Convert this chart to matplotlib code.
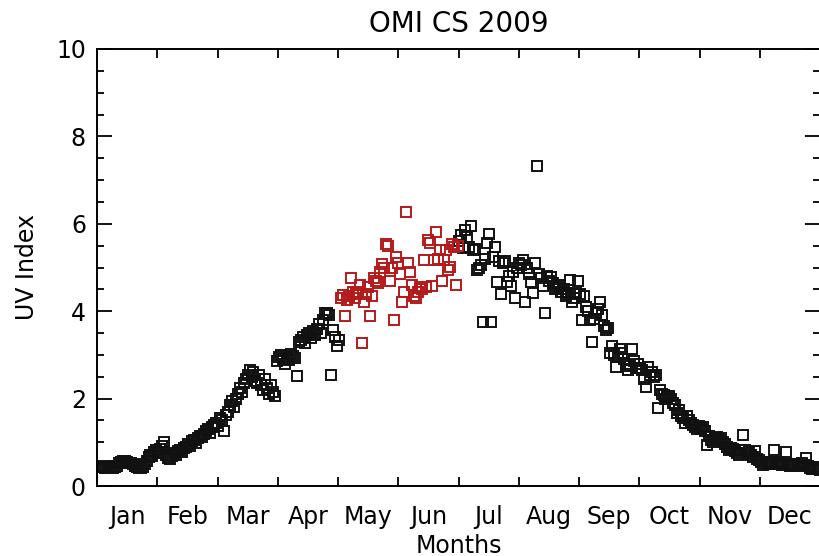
import numpy as np
import matplotlib
matplotlib.use("Agg")
import matplotlib.pyplot as plt
from matplotlib.ticker import FixedLocator, MultipleLocator

# Daily UV index, one list per month
jan = [0.45, 0.43, 0.44, 0.42, 0.41, 0.43, 0.45, 0.42, 0.44, 0.46,
       0.52, 0.56, 0.58, 0.57, 0.55, 0.53, 0.52, 0.50, 0.46, 0.43,
       0.41, 0.42, 0.44, 0.50, 0.58, 0.66, 0.72, 0.68, 0.78, 0.82, 0.75]
feb = [0.85, 0.92, 1.00, 0.72, 0.65, 0.62, 0.68, 0.75, 0.70, 0.80,
       0.83, 0.78, 0.88, 0.90, 0.95, 0.92, 1.02, 1.05, 0.98, 1.10,
       1.15, 1.12, 1.20, 1.25, 1.30, 1.22, 1.35, 1.40]
mar = [1.45, 1.38, 1.55, 1.50, 1.25, 1.62, 1.70, 1.85, 1.95, 1.80,
       2.00, 2.10, 2.25, 2.15, 2.35, 2.45, 2.55, 2.65, 2.50, 2.60,
       2.40, 2.35, 2.55, 2.30, 2.20, 2.45, 2.25, 2.10, 2.30, 2.15, 2.05]
apr = [2.85, 2.95, 3.00, 2.90, 2.80, 2.95, 2.88, 3.02, 2.98, 2.92,
       2.52, 3.30, 3.35, 3.40, 3.28, 3.45, 3.50, 3.38, 3.55, 3.45,
       3.60, 3.70, 3.50, 3.80, 3.95, 3.97, 3.92, 2.55, 3.58, 3.40]
may = [3.20, 3.35, 4.30, 4.38, 3.88, 4.25, 4.35, 4.77, 4.45, 4.30,
       4.40, 4.45, 4.60, 3.28, 4.20, 4.40, 4.55, 3.88, 4.35, 4.77,
       4.70, 4.65, 4.90, 5.07, 5.00, 5.53, 5.50, 4.68, 5.00, 3.80, 5.25]
jun = [5.10, 4.84, 4.20, 4.45, 6.28, 5.10, 4.90, 4.60, 4.35, 4.30,
       4.45, 4.55, 4.50, 5.18, 4.55, 5.64, 5.57, 4.58, 5.18, 5.82,
       5.20, 5.40, 4.68, 5.18, 5.40, 4.95, 5.02, 5.53, 5.48, 4.60]
jul = [5.50, 5.60, 5.75, 5.45, 5.85, 5.70, 5.46, 5.94, 5.40, 5.43,
       4.95, 4.98, 5.05, 3.76, 5.20, 5.57, 5.76, 3.76, 5.25, 5.46,
       4.66, 5.14, 4.40, 5.10, 5.14, 4.66, 4.80, 4.57, 4.90, 4.30, 5.00]
aug = [5.10, 5.05, 5.18, 4.20, 5.00, 4.85, 4.66, 4.42, 5.10, 7.32,
       4.85, 4.75, 4.57, 3.97, 4.80, 4.70, 4.78, 4.65, 4.50, 4.55,
       4.60, 4.45, 4.43, 4.50, 4.35, 4.40, 4.72, 4.20, 4.30, 4.42, 4.68]
sep = [4.40, 3.80, 4.35, 4.10, 4.00, 3.80, 3.30, 3.82, 3.95, 4.05,
       4.22, 3.92, 3.65, 3.58, 3.62, 3.05, 3.20, 3.00, 2.73, 2.95,
       3.13, 3.05, 2.90, 2.80, 2.66, 2.75, 3.13, 2.85, 2.70, 2.80]
oct = [2.70, 2.66, 2.45, 2.27, 2.73, 2.55, 2.60, 2.50, 2.55, 1.79,
       2.20, 2.10, 2.08, 2.00, 2.03, 2.05, 1.98, 1.90, 1.86, 1.67,
       1.75, 1.60, 1.55, 1.45, 1.60, 1.50, 1.45, 1.40, 1.35, 1.30, 1.38]
nov = [1.30, 1.35, 1.25, 0.94, 1.15, 1.05, 1.00, 1.10, 1.12, 1.05,
       1.10, 1.00, 0.95, 0.90, 0.83, 0.88, 0.85, 0.80, 0.75, 0.70,
       0.82, 1.17, 0.83, 0.75, 0.78, 0.70, 0.67, 0.80, 0.62, 0.60]
dec = [0.55, 0.48, 0.52, 0.55, 0.50, 0.52, 0.55, 0.83, 0.50, 0.55,
       0.52, 0.48, 0.50, 0.78, 0.50, 0.45, 0.48, 0.46, 0.50, 0.48,
       0.45, 0.52, 0.48, 0.64, 0.45, 0.42, 0.40, 0.44, 0.40, 0.38, 0.37]

month_labels = ["Jan", "Feb", "Mar", "Apr", "May", "Jun",
                "Jul", "Aug", "Sep", "Oct", "Nov", "Dec"]

# highlighted period (day of year, inclusive)
red_start = 123
red_end = 182

uv = np.array(jan + feb + mar + apr + may + jun + jul + aug + sep + oct + nov + dec)
doy = np.arange(1, len(uv) + 1)
red = (doy >= red_start) & (doy <= red_end)

plt.rcParams['font.family'] = ['DejaVu Sans']
fig = plt.figure(figsize=(8.19, 5.56), dpi=100)
ax = fig.add_axes([97 / 819, 1 - 486 / 556, 723 / 819, 437 / 556])

mk = dict(marker='s', linestyle='none', mfc='none', ms=7, mew=1.4)
ax.plot(doy[~red], uv[~red], mec='#111111', **mk)
ax.plot(doy[red], uv[red], mec='#b41a1a', **mk)

ax.set_xlim(0, 365)
ax.set_ylim(0, 10)

edges = np.linspace(0, 365, 13)
ax.xaxis.set_major_locator(FixedLocator(edges[1:-1]))
ax.xaxis.set_minor_locator(FixedLocator((edges[:-1] + edges[1:]) / 2))
ax.set_xticklabels([], minor=False)
ax.set_xticklabels(month_labels, minor=True)
ax.tick_params(axis='x', which='major', direction='in', length=6.5, width=1.3,
               top=True, bottom=True)
ax.tick_params(axis='x', which='minor', length=0, pad=14, labelsize=17)

ax.yaxis.set_major_locator(MultipleLocator(2))
ax.yaxis.set_minor_locator(MultipleLocator(0.5))
ax.tick_params(axis='y', which='major', direction='in', length=11, width=1.3,
               left=True, right=True, labelsize=17, pad=8)
ax.tick_params(axis='y', which='minor', direction='in', length=5, width=1.3,
               left=True, right=True)

for s in ax.spines.values():
    s.set_linewidth(1.4)

ax.set_title("OMI CS 2009", fontsize=20, pad=12)
ax.set_xlabel("Months", fontsize=17, labelpad=3)
ax.set_ylabel("UV Index", fontsize=17, labelpad=12)

fig.savefig("out.png", dpi=100)
